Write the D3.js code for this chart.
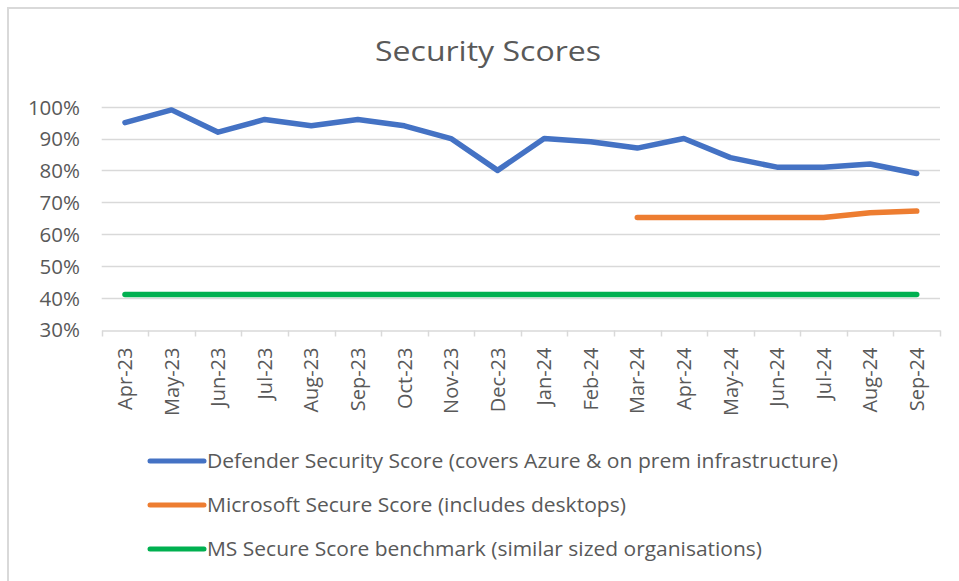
<!DOCTYPE html>
<html>
<head>
<meta charset="utf-8">
<script src="https://cdn.jsdelivr.net/npm/d3@7"></script>
<style>
  body { margin: 0; background: #fff; }
  svg text { font-family: "Open Sans", "Noto Sans", sans-serif; fill: #595959; }
</style>
</head>
<body>
<svg id="chart" width="959" height="581"></svg>
<script>
// data
const months = ["Apr-23", "May-23", "Jun-23", "Jul-23", "Aug-23", "Sep-23", "Oct-23", "Nov-23", "Dec-23",
  "Jan-24", "Feb-24", "Mar-24", "Apr-24", "May-24", "Jun-24", "Jul-24", "Aug-24", "Sep-24"];
const defenderScore = [95, 99, 92, 96, 94, 96, 94, 90, 80, 90, 89, 87, 90, 84, 81, 81, 82, 79];
const microsoftScore = [null, null, null, null, null, null, null, null, null, null, null, 65.2, 65.2, 65.2, 65.2, 65.2, 66.7, 67.2];
const benchmarkScore = [41, 41, 41, 41, 41, 41, 41, 41, 41, 41, 41, 41, 41, 41, 41, 41, 41, 41];
const yTicks = [30, 40, 50, 60, 70, 80, 90, 100];

const seriesNames = [
  "Defender Security Score (covers Azure & on prem infrastructure)",
  "Microsoft Secure Score (includes desktops)",
  "MS Secure Score benchmark (similar sized organisations)"
];
const seriesColors = ["#4472C4", "#ED7D31", "#00B050"];
const seriesValues = [defenderScore, microsoftScore, benchmarkScore];

const svg = d3.select("#chart");

// outer chart border (runs off the right / bottom of the picture)
svg.append("rect")
  .attr("x", 8).attr("y", 8)
  .attr("width", 960).attr("height", 580)
  .attr("fill", "none")
  .attr("stroke", "#d9d9d9")
  .attr("stroke-width", 2);

const x = d3.scaleBand().domain(months).range([101.7, 940]);
const y = d3.scaleLinear().domain([30, 100]).range([329.5, 106.7]);

// gridlines
svg.append("g")
  .selectAll("line")
  .data(yTicks.filter(d => d > 30))
  .enter()
  .append("line")
  .attr("x1", 101.7).attr("x2", 940)
  .attr("y1", d => Math.round(y(d)) + 0.5)
  .attr("y2", d => Math.round(y(d)) + 0.5)
  .attr("stroke", "#d9d9d9")
  .attr("stroke-width", 1.5);

// y axis labels
const yAxis = d3.axisLeft(y).tickValues(yTicks).tickSize(0).tickPadding(0)
  .tickFormat(d => d + "%");
svg.append("g")
  .attr("transform", "translate(80,0)")
  .call(yAxis)
  .call(g => g.select(".domain").remove())
  .selectAll("text")
  .attr("dy", "0.36em")
  .style("font-size", "20.5px");

// x axis
const xAxis = d3.axisBottom(x).tickSize(0);
const xg = svg.append("g")
  .attr("transform", `translate(0,${Math.round(y(30)) + 0.5})`)
  .call(xAxis);
xg.select(".domain").attr("stroke", "#d9d9d9").attr("stroke-width", 1.5);
xg.selectAll(".tick line").remove();
xg.selectAll(".tick text")
  .attr("transform", "rotate(-90)")
  .attr("x", -17).attr("y", 0)
  .attr("dy", "0.36em")
  .attr("text-anchor", "end")
  .style("font-size", "20px");

// tick marks sit between categories
const edges = months.map(m => x(m)).concat([x.range()[1]]);
xg.selectAll("line.edge")
  .data(edges)
  .enter()
  .append("line")
  .attr("class", "edge")
  .attr("x1", d => Math.round(d) + 0.5).attr("x2", d => Math.round(d) + 0.5)
  .attr("y1", 0).attr("y2", 6)
  .attr("stroke", "#d9d9d9")
  .attr("stroke-width", 1.5);

// series lines
const line = d3.line()
  .defined(d => d.v != null)
  .x(d => x(d.m) + x.bandwidth() / 2)
  .y(d => y(d.v));

seriesValues.forEach((vals, i) => {
  svg.append("path")
    .datum(months.map((m, j) => ({ m: m, v: vals[j] })))
    .attr("d", line)
    .attr("fill", "none")
    .attr("stroke", seriesColors[i])
    .attr("stroke-width", 5.5)
    .attr("stroke-linejoin", "round")
    .attr("stroke-linecap", "round");
});

// title
svg.append("text")
  .attr("x", 488).attr("y", 61)
  .attr("text-anchor", "middle")
  .attr("textLength", 226)
  .attr("lengthAdjust", "spacingAndGlyphs")
  .style("font-size", "27px")
  .text("Security Scores");

// legend
const legendWidths = [631, 419, 555];
const legend = svg.append("g")
  .selectAll("g")
  .data(seriesNames)
  .enter()
  .append("g")
  .attr("transform", (d, i) => `translate(0,${461 + i * 44})`);

legend.append("line")
  .attr("x1", 150).attr("x2", 204)
  .attr("y1", 0).attr("y2", 0)
  .attr("stroke", (d, i) => seriesColors[i])
  .attr("stroke-width", 5)
  .attr("stroke-linecap", "round");

legend.append("text")
  .attr("x", 207).attr("y", 0)
  .attr("dy", "0.35em")
  .attr("textLength", (d, i) => legendWidths[i])
  .attr("lengthAdjust", "spacingAndGlyphs")
  .style("font-size", "20px")
  .text(d => d);
</script>
</body>
</html>
